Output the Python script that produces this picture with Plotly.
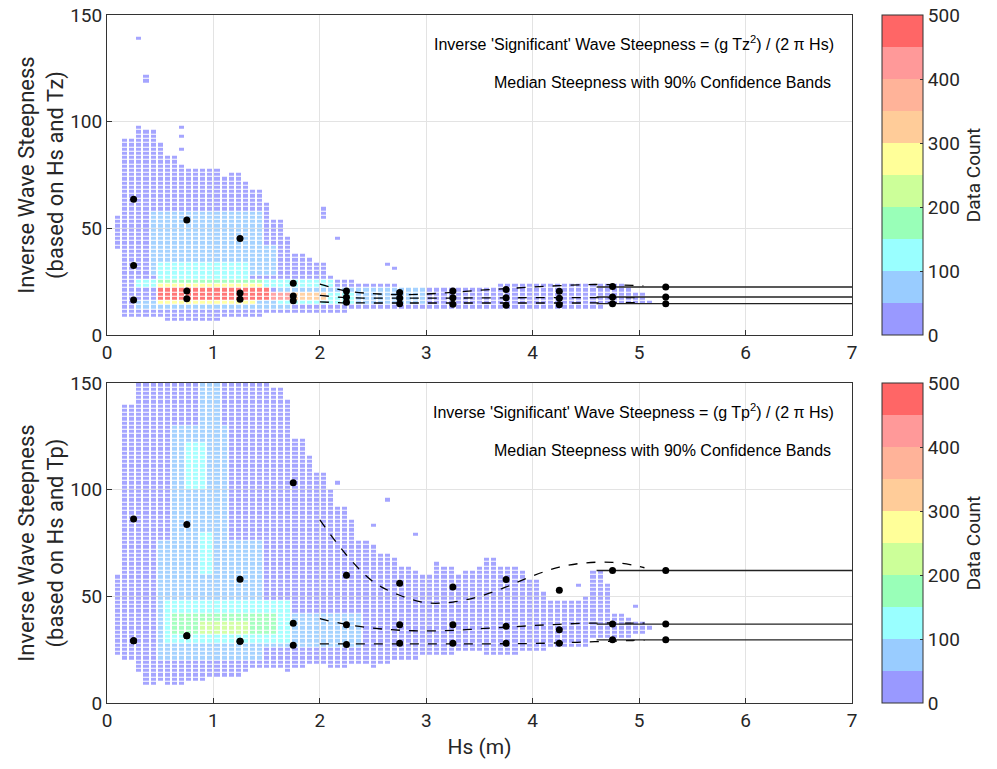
import numpy as np
import plotly.graph_objects as go
from plotly.subplots import make_subplots

# ---------------- data ----------------
HS_BINS = [0.25, 0.75, 1.25, 1.75, 2.25, 2.75, 3.25, 3.75, 4.25, 4.75, 5.25]

TZ_P95 = [63.6, 53.9, 45.2, 24.2, 20.6, 19.9, 20.6, 21.3, 20.5, 22.7, 22.5]
TZ_P50 = [32.6, 20.6, 19.7, 18.3, 17.7, 17.3, 17.5, 17.5, 17.2, 17.8, 17.8]
TZ_P05 = [16.4, 17.0, 16.8, 16.0, 15.3, 14.7, 14.4, 13.9, 14.2, 14.7, 14.7]

TP_P95 = [86.2, 83.7, 58.0, 103.2, 59.9, 56.1, 54.4, 57.9, 52.8, 62.1, 62.1]
TP_P50 = [29.2, 31.5, 29.0, 37.4, 36.7, 36.7, 36.7, 36.0, 34.3, 37.0, 37.0]
TP_P05 = [29.2, 31.5, 29.0, 27.1, 27.4, 28.0, 28.0, 28.0, 28.0, 29.6, 29.6]

TZ_FIT_HS = [2.0, 2.25, 2.5, 2.75, 3.0, 3.25, 3.5, 3.75, 4.0, 4.25, 4.5, 4.75, 5.04]
TZ_FIT_P95 = [23.8, 20.6, 19.4, 18.9, 19.2, 20.0, 21.0, 21.7, 22.5, 23.1, 23.6, 23.6, 23.0]
TZ_FIT_P50 = [18.6, 17.5, 17.3, 17.3, 17.3, 17.3, 17.4, 17.4, 17.5, 17.5, 17.5, 17.5, 17.5]
TZ_FIT_P05 = [15.5, 15.1, 15.0, 15.0, 15.0, 15.0, 15.0, 15.0, 15.0, 15.0, 15.0, 15.1, 15.1]

TP_FIT_HS = [2.0, 2.25, 2.5, 2.75, 3.0, 3.25, 3.5, 3.75, 4.0, 4.25, 4.5, 4.75, 4.94, 5.05]
TP_FIT_P95 = [85.9, 69.4, 56.9, 50.5, 47.0, 47.3, 50.0, 54.4, 59.6, 63.7, 65.7, 65.9, 64.6, 63.4]
TP_FIT_P50 = [39.5, 36.8, 35.1, 34.1, 33.8, 34.0, 34.8, 35.5, 36.3, 36.9, 37.4, 37.5, 37.4, 37.4]
TP_FIT_P05 = [27.7, 27.7, 27.7, 27.7, 27.7, 27.7, 27.7, 27.8, 27.9, 28.2, 28.6, 29.0, 29.3, 29.4]

EXTRAP_HS = [4.6, 7.0]

# extents of the occupied cells per Hs column (lower, upper)
TOP_EXT_HS = [0.1, 0.2, 0.3, 0.4, 0.5, 0.6, 0.7, 0.8, 0.9, 1.0, 1.1, 1.2, 1.3, 1.4, 1.5,
              1.6, 1.7, 1.8, 1.9, 2.0, 2.1, 2.2, 2.3, 2.4, 2.5, 2.6, 2.7, 2.8, 2.9, 3.0,
              3.1, 3.2, 3.3, 3.4, 3.5, 3.6, 3.7, 3.8, 3.9, 4.0, 4.1, 4.2, 4.3, 4.4, 4.5,
              4.6, 4.7, 4.8, 4.9, 5.0, 5.1]
TOP_EXT_LO = [40, 9, 8, 8, 8, 7, 7, 7, 7, 7, 8, 8, 8, 9, 10,
              10, 11, 11, 11, 11, 11, 11, 12, 12, 12, 12, 12, 12, 12, 12,
              12, 12, 12, 12, 12, 12, 13, 13, 13, 13, 13, 13, 13, 13, 13,
              13, 14, 14, 14, 14, 14]
TOP_EXT_HI = [56, 92, 97, 96, 90, 84, 80, 78, 78, 77, 74, 75, 72, 67, 61,
              54, 46, 38, 35, 33, 27, 25, 25, 24, 24, 24, 23, 22, 22, 22,
              22, 22, 22, 22, 22, 22, 23, 23, 23, 23, 23, 23, 23, 23, 23,
              23, 23, 23, 22, 20, 16]

BOT_EXT_HS = TOP_EXT_HS
BOT_EXT_LO = [22, 20, 15, 9, 11, 9, 9, 10, 11, 12, 13, 13, 15, 16, 16,
              17, 14, 17, 18, 18, 17, 17, 18, 19, 17, 19, 20, 21, 21, 22,
              22, 22, 24, 24, 24, 22, 22, 23, 24, 24, 25, 26, 26, 27, 27,
              30, 31, 31, 31, 33, 34]
BOT_EXT_HI = [60, 140, 150, 150, 150, 150, 150, 150, 150, 150, 150, 150, 150, 150, 150,
              148, 142, 124, 116, 108, 100, 92, 86, 76, 74, 69, 68, 64, 61, 60,
              65, 64, 60, 62, 64, 67, 64, 64, 62, 57, 52, 48, 47, 47, 50,
              62, 55, 42, 40, 37, 36]

# denser zones: Hs from, Hs to, steepness from, steepness to, count
TOP_CORE_HS0 = [0.40, 1.45, 0.30, 1.60, 0.45, 0.30, 1.60, 0.45, 0.45, 0.45, 1.50, 1.75, 0.45]
TOP_CORE_HS1 = [1.45, 1.60, 1.70, 3.00, 1.30, 2.10, 2.30, 1.45, 1.45, 1.50, 1.75, 2.05, 1.40]
TOP_CORE_Y0 = [28, 28, 12, 14, 26, 22, 15, 24, 22, 16, 16, 16, 14]
TOP_CORE_Y1 = [58, 42, 16, 22, 34, 26, 20, 26, 24, 22, 20, 20, 16]
TOP_CORE_N = [75, 75, 75, 75, 125, 125, 125, 175, 275, 475, 425, 325, 275]

BOT_CORE_HS0 = [0.45, 0.60, 0.85, 1.45, 0.55, 0.75, 0.85, 0.60, 0.88]
BOT_CORE_HS1 = [1.45, 1.10, 1.05, 2.40, 1.70, 0.95, 1.00, 1.60, 1.30]
BOT_CORE_Y0 = [20, 75, 130, 26, 28, 100, 60, 32, 33]
BOT_CORE_Y1 = [75, 130, 152, 42, 48, 122, 80, 42, 38]
BOT_CORE_N = [75, 75, 75, 75, 125, 125, 125, 175, 225]

# isolated cells
TOP_OUT_HS = [0.28, 0.35, 0.35, 0.72, 0.72, 0.72, 2.02, 2.02, 2.02, 2.15, 2.62, 2.72]
TOP_OUT_Y = [139, 121, 119, 97, 93, 88, 59, 57, 55, 45, 33, 31]
BOT_OUT_HS = [2.15, 2.5, 2.6, 2.9, 4.0, 4.4, 5.0]
BOT_OUT_Y = [103, 83, 95, 79, 52, 55, 45]

COUNT_LEVELS = [0, 50, 100, 150, 200, 250, 300, 350, 400, 450, 500]
LEVEL_COLORS = ["#9999ff", "#99ccff", "#99ffff", "#99ffb8", "#ccff99",
                "#ffff99", "#ffcc99", "#ffb399", "#ff9999", "#ff6666"]

# ---------------- build grids ----------------
BIN_W = 1.0 / 15
BIN_H = 2.0
xc = (np.arange(0, 78) + 0.5) * BIN_W
yc = np.arange(0, 152, BIN_H) + BIN_H / 2


def build(ext_hs, lo, hi, c0, c1, y0, y1, n, ohs, oy):
    ext_hs = np.array(ext_hs)
    z = np.full((len(yc), len(xc)), np.nan)
    for j, x in enumerate(xc):
        k = int(np.argmin(np.abs(ext_hs - x)))
        if abs(ext_hs[k] - x) > 0.06:
            continue
        m = (yc >= lo[k]) & (yc <= hi[k])
        z[m, j] = 20
        for a, b, c, d, v in zip(c0, c1, y0, y1, n):
            if a <= x <= b:
                mm = m & (yc >= c) & (yc <= d)
                z[mm, j] = np.fmax(z[mm, j], v)
    for x, y in zip(ohs, oy):
        j = int(np.argmin(np.abs(xc - x)))
        i = int(np.argmin(np.abs(yc - y)))
        z[i, j] = 5
    return z


z_top = build(TOP_EXT_HS, TOP_EXT_LO, TOP_EXT_HI, TOP_CORE_HS0, TOP_CORE_HS1,
              TOP_CORE_Y0, TOP_CORE_Y1, TOP_CORE_N, TOP_OUT_HS, TOP_OUT_Y)
z_bot = build(BOT_EXT_HS, BOT_EXT_LO, BOT_EXT_HI, BOT_CORE_HS0, BOT_CORE_HS1,
              BOT_CORE_Y0, BOT_CORE_Y1, BOT_CORE_N, BOT_OUT_HS, BOT_OUT_Y)

cscale = []
for i, col in enumerate(LEVEL_COLORS):
    cscale.append([i / 10, col])
    cscale.append([(i + 1) / 10, col])

FONT = "Roboto, sans-serif"
TXT = "#262626"
AX = "#333333"

fig = make_subplots(rows=2, cols=1, vertical_spacing=0.0)

H_TOP = [0.5349, 1.0]
H_BOT = [0.0, 0.4651]

for row, z, dom in [(1, z_top, H_TOP), (2, z_bot, H_BOT)]:
    fig.add_trace(go.Heatmap(
        x=xc, y=yc, z=z, zmin=0, zmax=500, colorscale=cscale,
        xgap=2, ygap=1, hoverinfo="skip", opacity=0.88,
        colorbar=dict(
            x=1.0403, xanchor="left", xpad=0, ypad=0,
            y=dom[1], yanchor="top", len=dom[1] - dom[0], lenmode="fraction",
            thickness=41, outlinecolor=AX, outlinewidth=1,
            tickvals=[0, 100, 200, 300, 400, 500], ticks="inside", ticklen=3,
            tickcolor=AX, tickfont=dict(family=FONT, size=19, color=TXT),
            title=dict(text="Data Count", side="right",
                       font=dict(family=FONT, size=19, color=TXT)),
        ),
    ), row=row, col=1)

def add_stats(row, fx, p95, p50, p05, dots):
    for arr in (p95, p50, p05):
        fig.add_trace(go.Scatter(x=fx, y=arr, mode="lines", line=dict(color="black", width=1.3, dash="dash", shape="spline"),
                                 hoverinfo="skip", showlegend=False), row=row, col=1)
    for arr in dots:
        fig.add_trace(go.Scatter(x=EXTRAP_HS, y=[arr[-1], arr[-1]], mode="lines",
                                 line=dict(color="#222222", width=1.3), hoverinfo="skip",
                                 showlegend=False), row=row, col=1)
    for arr in dots:
        fig.add_trace(go.Scatter(x=HS_BINS, y=arr, mode="markers",
                                 marker=dict(color="black", size=7), showlegend=False), row=row, col=1)

add_stats(1, TZ_FIT_HS, TZ_FIT_P95, TZ_FIT_P50, TZ_FIT_P05, [TZ_P95, TZ_P50, TZ_P05])
add_stats(2, TP_FIT_HS, TP_FIT_P95, TP_FIT_P50, TP_FIT_P05, [TP_P95, TP_P50, TP_P05])

axis_common = dict(showline=True, mirror=True, linecolor=AX, linewidth=1, ticks="inside",
                   ticklen=5, tickcolor=AX, showgrid=True, gridcolor="#e3e3e3", gridwidth=1,
                   zeroline=False, automargin=False, tickfont=dict(family=FONT, size=19, color=TXT))

fig.update_xaxes(range=[0, 7], dtick=1, **axis_common)
fig.update_yaxes(range=[0, 150], tickvals=[0, 50, 100, 150], **axis_common)
fig.update_xaxes(title=dict(text="Hs (m)", font=dict(family=FONT, size=21, color=TXT), standoff=8), row=2, col=1)
fig.update_yaxes(domain=H_TOP, title=dict(text="Inverse Wave Steepness<br>(based on Hs and Tz)",
                 font=dict(family=FONT, size=22, color=TXT), standoff=0), row=1, col=1)
fig.update_yaxes(domain=H_BOT, title=dict(text="Inverse Wave Steepness<br>(based on Hs and Tp)",
                 font=dict(family=FONT, size=22, color=TXT), standoff=0), row=2, col=1)

ANN_FONT = dict(family="Liberation Sans, Arial, sans-serif", size=16, color="black")
for xr, yr, per in [("x", "y", "Tz"), ("x2", "y2", "Tp")]:
    fig.add_annotation(xref=xr + " domain", yref=yr + " domain", x=0.9785, y=0.9125, xanchor="right",
                       yanchor="middle", showarrow=False, font=ANN_FONT,
                       text=f"Inverse 'Significant' Wave Steepness = (g {per}<sup>2</sup>) / (2 \u03c0 Hs)")
    fig.add_annotation(xref=xr + " domain", yref=yr + " domain", x=0.9745, y=0.79, xanchor="right",
                       yanchor="middle", showarrow=False, font=ANN_FONT,
                       text="Median Steepness with 90% Confidence Bands")

fig.update_layout(width=997, height=769, margin=dict(l=107, r=145, t=15, b=66),
                  plot_bgcolor="white", paper_bgcolor="white", showlegend=False)

# remove the default page margin so the figure sits at the window's top-left corner
fig.write_html("out.html", config={"displayModeBar": False},
               post_script="document.body.style.margin='0';")
